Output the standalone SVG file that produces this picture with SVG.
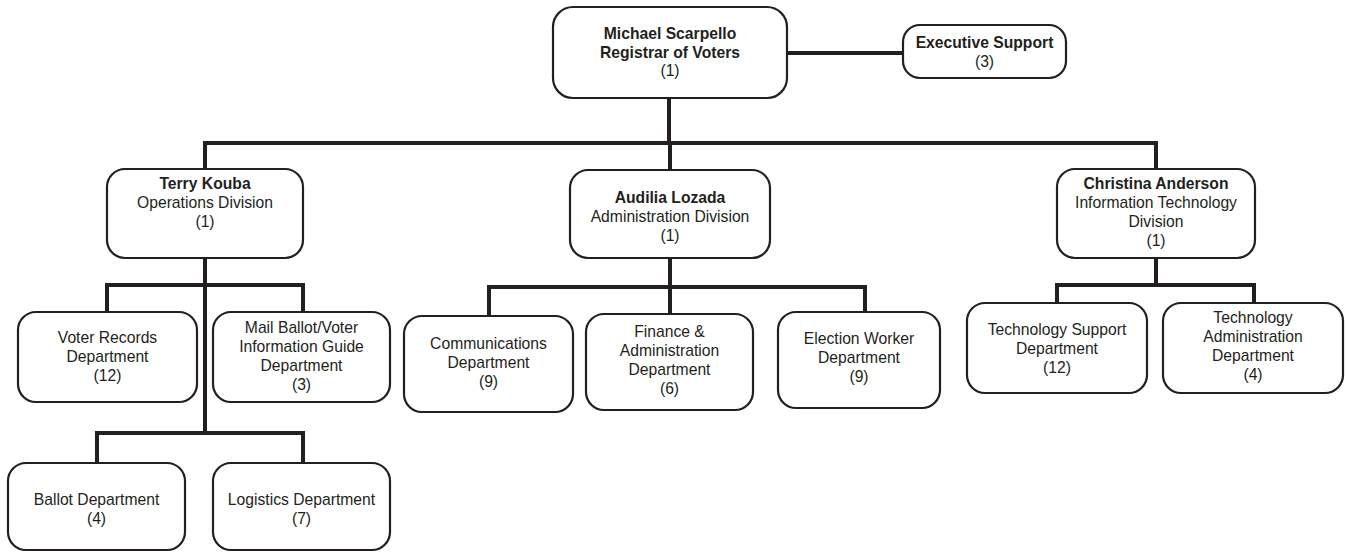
<svg xmlns="http://www.w3.org/2000/svg" width="1346" height="552" viewBox="0 0 1346 552">
<style>
.box{fill:#fff;stroke:#231f20;stroke-width:2.2}
.conn{fill:none;stroke:#231f20;stroke-width:4;stroke-linejoin:miter;stroke-linecap:butt}
text{font-family:"Liberation Sans",Arial,sans-serif;font-size:15.7px;fill:#231f20;text-anchor:middle}
.b{font-weight:bold}
</style>
<rect width="1346" height="552" fill="#fff"/>
<g id="connectors">
<path class="conn" d="M787 53H903"/>
<path class="conn" d="M669 97V143"/>
<path class="conn" d="M205 169V143H1156V169"/>
<path class="conn" d="M670 143V170"/>
<path class="conn" d="M205 258V433"/>
<path class="conn" d="M107 312V285H303V312"/>
<path class="conn" d="M97 463V433H303V463"/>
<path class="conn" d="M670 258V287"/>
<path class="conn" d="M489 316V287H865V312"/>
<path class="conn" d="M670 287V314"/>
<path class="conn" d="M1156 258V285"/>
<path class="conn" d="M1057 303V285H1254V303"/>
</g>
<g id="registrar">
<rect class="box" x="553" y="7" width="234" height="91" rx="20"/>
<text class="b" x="670" y="39">Michael Scarpello</text>
<text class="b" x="670" y="57.5">Registrar of Voters</text>
<text x="670" y="76">(1)</text>
</g>
<g id="exec-support">
<rect class="box" x="903" y="25" width="163" height="53" rx="17"/>
<text class="b" x="984.5" y="48">Executive Support</text>
<text x="984.5" y="67">(3)</text>
</g>
<g id="operations">
<rect class="box" x="107" y="169" width="196" height="89" rx="18"/>
<text class="b" x="205" y="189">Terry Kouba</text>
<text x="205" y="208">Operations Division</text>
<text x="205" y="227">(1)</text>
</g>
<g id="administration">
<rect class="box" x="570" y="170" width="200" height="88" rx="18"/>
<text class="b" x="670" y="203">Audilia Lozada</text>
<text x="670" y="222">Administration Division</text>
<text x="670" y="241">(1)</text>
</g>
<g id="it">
<rect class="box" x="1057" y="169" width="198" height="89" rx="18"/>
<text class="b" x="1156" y="189">Christina Anderson</text>
<text x="1156" y="208">Information Technology</text>
<text x="1156" y="227">Division</text>
<text x="1156" y="246">(1)</text>
</g>
<g id="voter-records">
<rect class="box" x="18" y="312" width="179" height="90" rx="18"/>
<text x="107.5" y="343">Voter Records</text>
<text x="107.5" y="362">Department</text>
<text x="107.5" y="381">(12)</text>
</g>
<g id="mail-ballot">
<rect class="box" x="213" y="312" width="177" height="90" rx="18"/>
<text x="301.5" y="333">Mail Ballot/Voter</text>
<text x="301.5" y="352">Information Guide</text>
<text x="301.5" y="371">Department</text>
<text x="301.5" y="390">(3)</text>
</g>
<g id="ballot">
<rect class="box" x="8" y="463" width="177" height="87" rx="18"/>
<text x="96.5" y="505">Ballot Department</text>
<text x="96.5" y="524">(4)</text>
</g>
<g id="logistics">
<rect class="box" x="213" y="463" width="177" height="87" rx="18"/>
<text x="301.5" y="505">Logistics Department</text>
<text x="301.5" y="524">(7)</text>
</g>
<g id="communications">
<rect class="box" x="404" y="316" width="169" height="96" rx="18"/>
<text x="488.5" y="349">Communications</text>
<text x="488.5" y="368">Department</text>
<text x="488.5" y="387">(9)</text>
</g>
<g id="finance">
<rect class="box" x="586" y="314" width="167" height="96" rx="18"/>
<text x="669.5" y="337">Finance &amp;</text>
<text x="669.5" y="356">Administration</text>
<text x="669.5" y="375">Department</text>
<text x="669.5" y="394">(6)</text>
</g>
<g id="election-worker">
<rect class="box" x="778" y="312" width="162" height="96" rx="18"/>
<text x="859" y="344">Election Worker</text>
<text x="859" y="363">Department</text>
<text x="859" y="382">(9)</text>
</g>
<g id="tech-support">
<rect class="box" x="967" y="303" width="180" height="90" rx="18"/>
<text x="1057" y="335">Technology Support</text>
<text x="1057" y="354">Department</text>
<text x="1057" y="373">(12)</text>
</g>
<g id="tech-admin">
<rect class="box" x="1163" y="303" width="180" height="90" rx="18"/>
<text x="1253" y="323">Technology</text>
<text x="1253" y="342">Administration</text>
<text x="1253" y="361">Department</text>
<text x="1253" y="380">(4)</text>
</g>
</svg>
